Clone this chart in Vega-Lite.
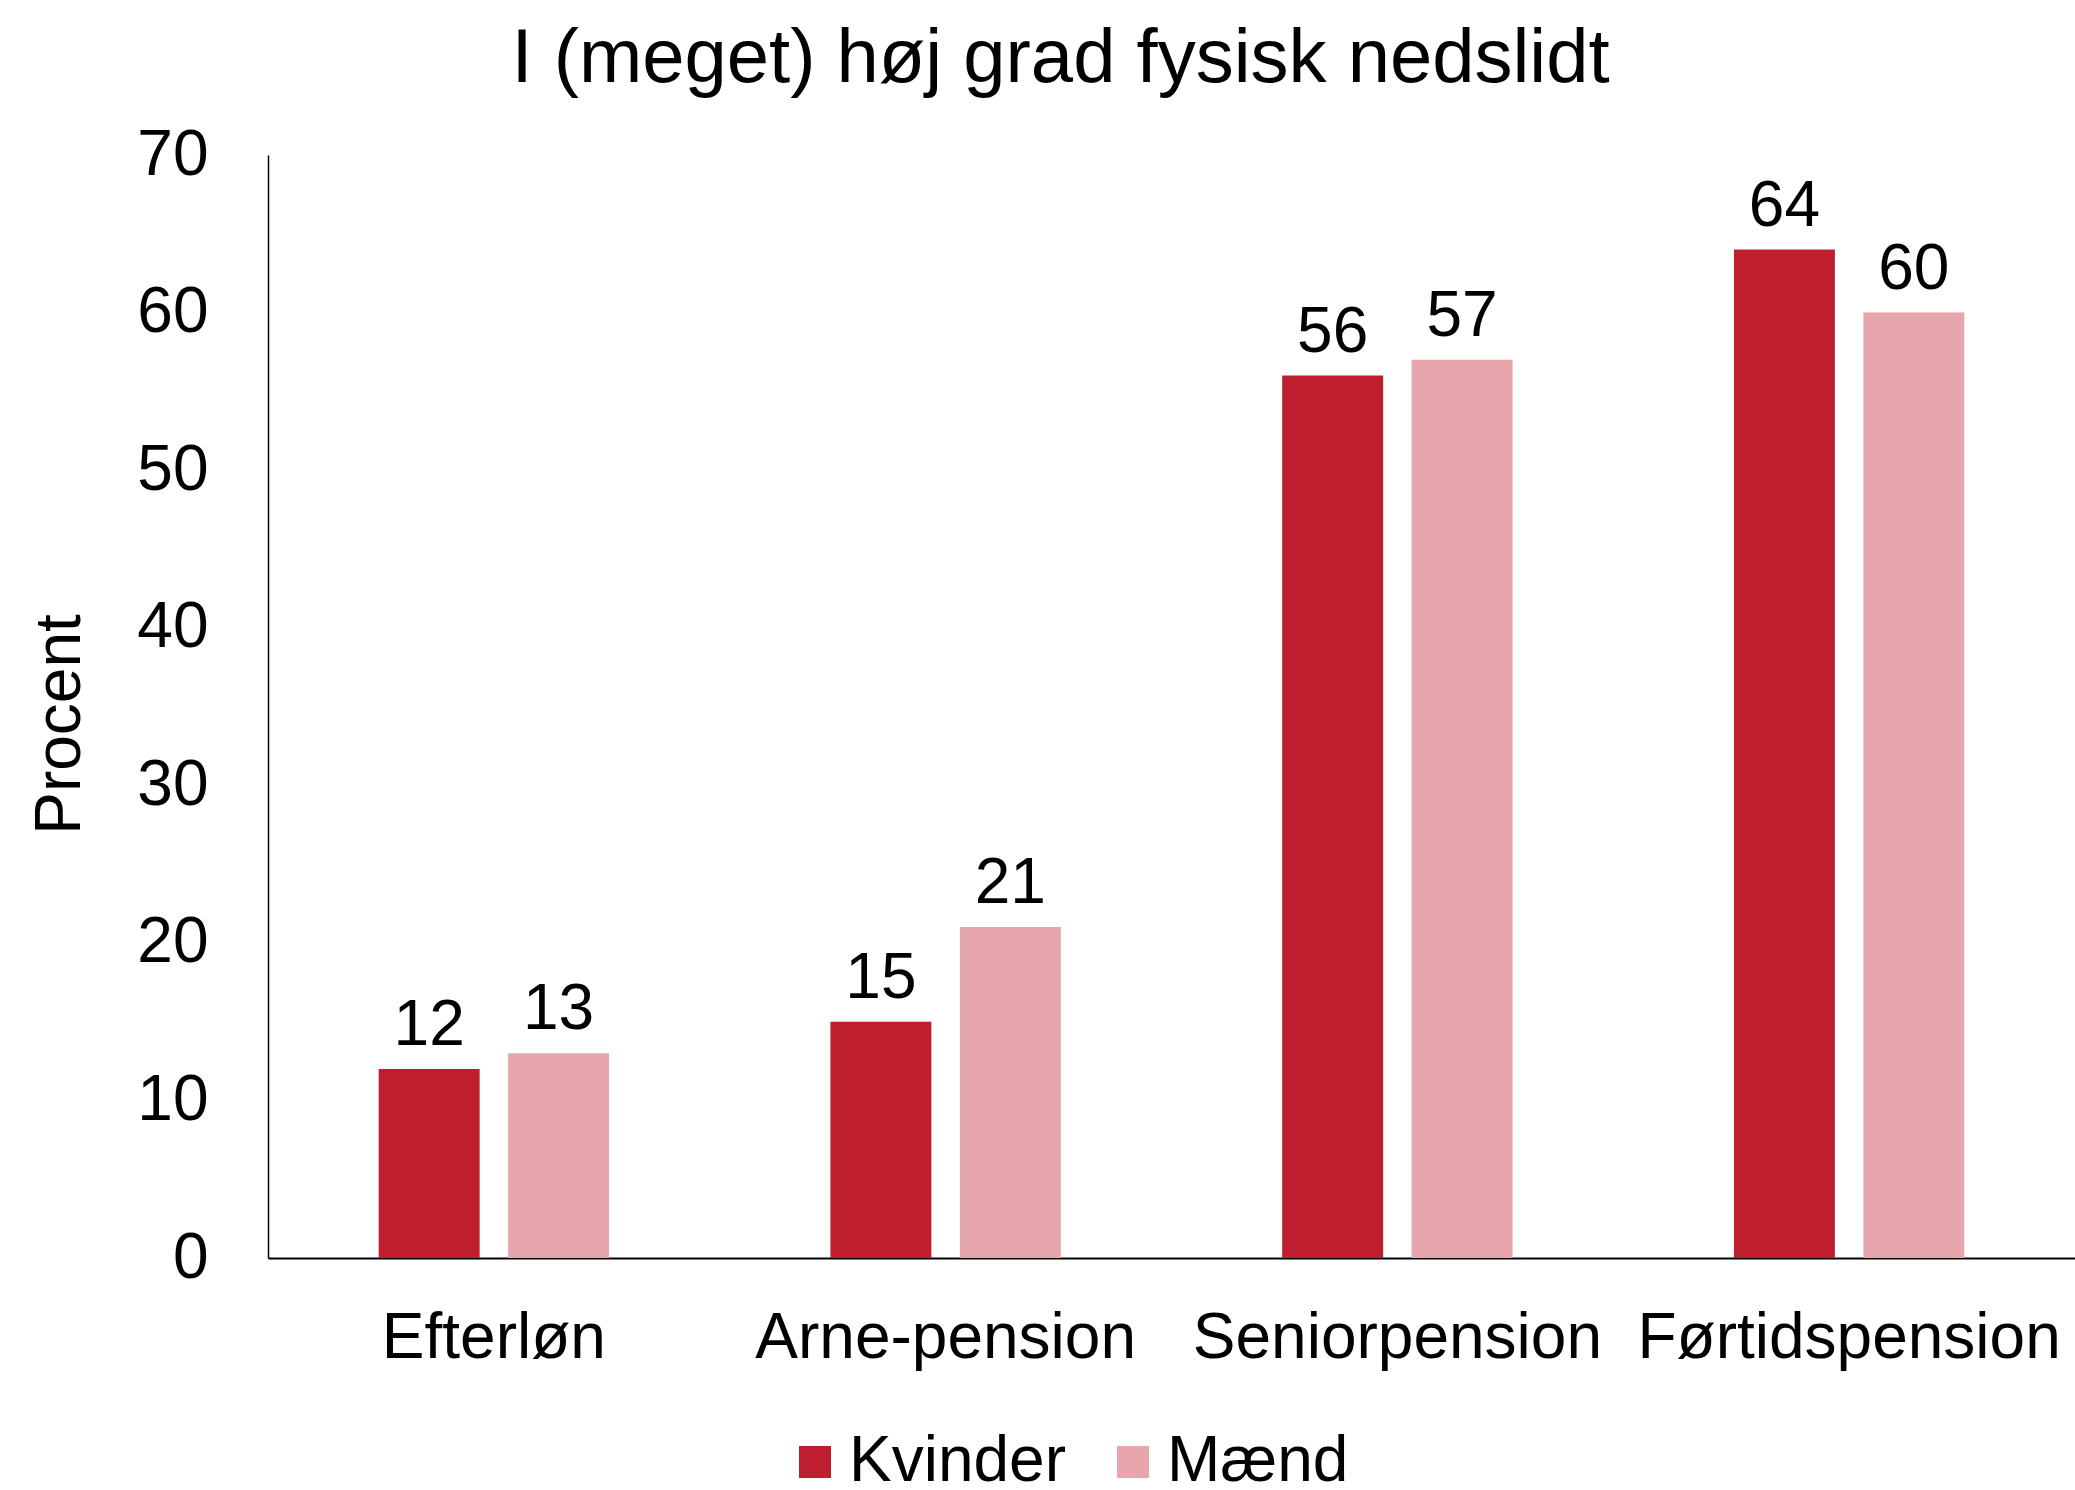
{
  "$schema": "https://vega.github.io/schema/vega-lite/v6.json",
  "width": 1807,
  "height": 1103,
  "autosize": {"type": "none"},
  "padding": {"left": 268, "top": 155, "right": 0, "bottom": 232},
  "background": "white",
  "config": {"view": {"stroke": null}, "font": "Liberation Sans"},
  "title": {
    "text": "I (meget) høj grad fysisk nedslidt",
    "fontSize": 76,
    "fontWeight": "normal",
    "color": "black",
    "anchor": "middle",
    "frame": "group",
    "dx": -111,
    "offset": 25
  },
  "data": {
    "values": [
      {"ordning": "Efterløn", "køn": "Kvinder", "procent": 12},
      {"ordning": "Efterløn", "køn": "Mænd", "procent": 13},
      {"ordning": "Arne-pension", "køn": "Kvinder", "procent": 15},
      {"ordning": "Arne-pension", "køn": "Mænd", "procent": 21},
      {"ordning": "Seniorpension", "køn": "Kvinder", "procent": 56},
      {"ordning": "Seniorpension", "køn": "Mænd", "procent": 57},
      {"ordning": "Førtidspension", "køn": "Kvinder", "procent": 64},
      {"ordning": "Førtidspension", "køn": "Mænd", "procent": 60}
    ]
  },
  "encoding": {
    "x": {
      "field": "ordning",
      "type": "nominal",
      "sort": ["Efterløn", "Arne-pension", "Seniorpension", "Førtidspension"],
      "scale": {"paddingInner": 0.49, "paddingOuter": 0.245},
      "axis": {
        "title": null,
        "labelAngle": 0,
        "labelFontSize": 64,
        "labelColor": "black",
        "labelBaseline": "alphabetic",
        "labelPadding": 99,
        "labelLimit": 0,
        "labelOverlap": false,
        "ticks": false,
        "tickSize": 0,
        "domainColor": "black",
        "domainWidth": 2,
        "grid": false
      }
    },
    "xOffset": {
      "field": "køn",
      "type": "nominal",
      "sort": ["Kvinder", "Mænd"],
      "scale": {"paddingInner": 0.22, "paddingOuter": 0}
    },
    "y": {
      "field": "procent",
      "type": "quantitative",
      "scale": {"domain": [0, 70], "nice": false},
      "axis": {
        "values": [0, 10, 20, 30, 40, 50, 60, 70],
        "title": "Procent",
        "titleFontSize": 64,
        "titleFontWeight": "normal",
        "titleColor": "black",
        "titleX": -208,
        "titleY": 569,
        "titleAngle": -90,
        "titleBaseline": "middle",
        "titleAlign": "center",
        "labelFontSize": 64,
        "labelColor": "black",
        "labelPadding": 60,
        "ticks": false,
        "tickSize": 0,
        "domainColor": "black",
        "domainWidth": 1.5,
        "grid": false
      }
    }
  },
  "layer": [
    {
      "mark": {"type": "bar"},
      "encoding": {
        "color": {
          "field": "køn",
          "type": "nominal",
          "sort": ["Kvinder", "Mænd"],
          "scale": {"domain": ["Kvinder", "Mænd"], "range": ["#BE1E2D", "#E7A6AC"]},
          "legend": {
            "title": null,
            "orient": "none",
            "direction": "horizontal",
            "legendX": 515,
            "legendY": 1275,
            "padding": 0,
            "symbolType": "square",
            "symbolSize": 1024,
            "symbolStrokeWidth": 0,
            "labelFontSize": 64,
            "labelColor": "black",
            "labelOffset": 2,
            "columnPadding": 35,
            "labelLimit": 0
          }
        }
      }
    },
    {
      "mark": {"type": "text", "baseline": "alphabetic", "dy": -24, "fontSize": 64, "color": "black"},
      "encoding": {"text": {"field": "procent", "type": "quantitative"}}
    }
  ]
}
